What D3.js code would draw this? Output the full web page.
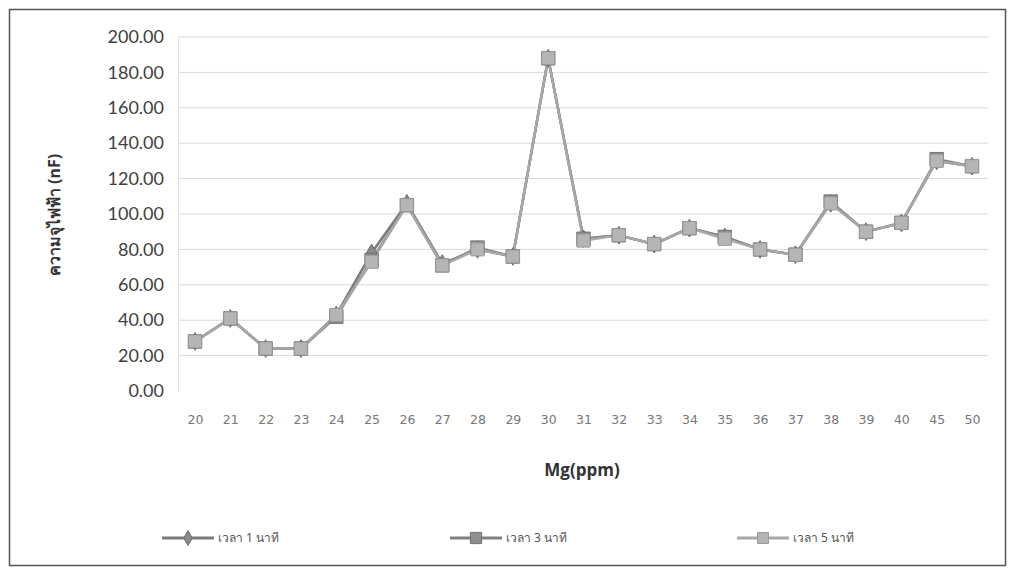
<!DOCTYPE html>
<html><head><meta charset="utf-8">
<script src="https://cdn.jsdelivr.net/npm/d3@7"></script>
<style>body{margin:0;background:#fff}</style>
</head><body>
<svg id="c" width="1013" height="571"></svg>
<script>
const categories = ["20","21","22","23","24","25","26","27","28","29","30","31","32","33","34","35","36","37","38","39","40","45","50"];
const series1 = [28, 41, 24, 24, 43, 78, 106, 72, 80, 76, 188, 86, 88, 83, 92, 87, 80, 77, 106, 90, 95, 130, 127];
const series2 = [28, 41, 24, 24, 42, 74, 105, 71, 81, 76, 188, 86, 88, 83, 92, 87, 80, 77, 107, 90, 95, 131, 127];
const series3 = [28, 41, 24, 24, 43, 73, 105, 71, 80, 76, 188, 85, 88, 83, 92, 86, 80, 77, 106, 90, 95, 130, 127];
const seriesNames = ["เวลา 1 นาที", "เวลา 3 นาที", "เวลา 5 นาที"];
const yTicks = [0,20,40,60,80,100,120,140,160,180,200];

const svg = d3.select("#c");
const L = 178, R = 988, T = 37, B = 391;
const x = d3.scalePoint().domain(categories).range([195, 972]);
const y = d3.scaleLinear().domain([0,200]).range([B, T]);

// frame
svg.append("rect").attr("x",9.5).attr("y",9.5).attr("width",996).attr("height",556)
  .attr("fill","none").attr("stroke","#555").attr("stroke-width",1.5);

// gridlines
svg.append("g").selectAll("line").data(yTicks.filter(d=>d>0)).join("line")
  .attr("x1",L).attr("x2",R).attr("y1",d=>y(d)).attr("y2",d=>y(d))
  .attr("stroke","#d9d9d9").attr("stroke-width",1);

// y axis
const ya = svg.append("g").attr("transform",`translate(${L},0)`)
  .call(d3.axisLeft(y).tickValues(yTicks).tickFormat(d3.format(".2f")).tickSize(0).tickPadding(14));
ya.select(".domain").attr("stroke","#e0e0e0");
ya.selectAll("text").attr("font-family","Lato, 'Open Sans', sans-serif").attr("font-size",18).attr("fill","#404040");

// x axis
const xa = svg.append("g").attr("transform",`translate(0,${B})`)
  .call(d3.axisBottom(x).tickSize(0).tickPadding(24));
xa.select(".domain").remove();
xa.selectAll("text").attr("font-family","'DejaVu Sans', sans-serif").attr("font-size",12.5).attr("fill","#777");

// axis titles
svg.append("text").attr("x",582).attr("y",476).attr("text-anchor","middle")
  .attr("font-family","'Open Sans', sans-serif").attr("font-weight","bold").attr("font-size",17).attr("fill","#333").text("Mg(ppm)");
svg.append("text").attr("transform","translate(60,215) rotate(-90)").attr("text-anchor","middle")
  .attr("font-family","'Noto Sans', sans-serif").attr("font-weight","bold").attr("font-size",16).attr("fill","#333").text("ความจุไฟฟ้า (nF)");

const line = d3.line().x((d,i)=>x(categories[i])).y(d=>y(d));
const styles = [
  {data:series1, line:"#7a7a7a", fill:"#8a8a8a", stroke:"#6a6a6a", shape:d3.symbolDiamond, size:90},
  {data:series2, line:"#808080", fill:"#8f8f8f", stroke:"#6f6f6f", shape:d3.symbolSquare, size:180},
  {data:series3, line:"#a8a8a8", fill:"#b5b5b5", stroke:"#999", shape:d3.symbolSquare, size:170}
];
styles.forEach(s=>{
  svg.append("path").datum(s.data).attr("d",line).attr("fill","none").attr("stroke",s.line).attr("stroke-width",2.5);
});
styles.forEach(s=>{
  svg.append("g").selectAll("path").data(s.data).join("path")
    .attr("transform",(d,i)=>`translate(${x(categories[i])},${y(d)})`)
    .attr("d",d3.symbol().type(s.shape).size(s.size))
    .attr("fill",s.fill).attr("stroke",s.stroke).attr("stroke-width",1);
});

// legend
const legX = [162, 450, 737];
seriesNames.forEach((n,i)=>{
  const s = styles[i], g = svg.append("g").attr("transform",`translate(${legX[i]},538)`);
  g.append("line").attr("x1",0).attr("x2",52).attr("stroke",s.line).attr("stroke-width",3);
  g.append("path").attr("transform","translate(26,0)").attr("d",d3.symbol().type(s.shape).size(s.size*0.7))
    .attr("fill",s.fill).attr("stroke",s.stroke);
  g.append("text").attr("x",56).attr("y",4).attr("font-family","'Noto Sans', sans-serif").attr("font-size",12).attr("fill","#555").text(n);
});
</script>
</body></html>
